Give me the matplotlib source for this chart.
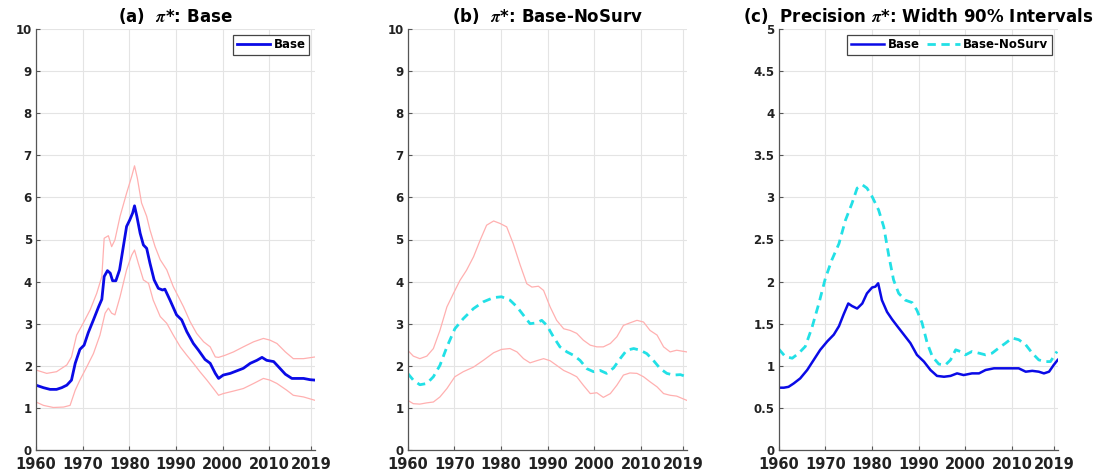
import matplotlib
matplotlib.use("Agg")
import matplotlib.pyplot as plt
from matplotlib.ticker import FormatStrFormatter

plt.rcParams['font.family'] = ['DejaVu Sans']
plt.rcParams['font.weight'] = 'bold'
plt.rcParams['mathtext.fontset'] = 'stix'

# pi* (Base): median and 90% band
base_yr = [1960, 1961.6, 1963, 1964.4, 1965.5, 1966.6, 1967.6, 1968.4, 1969.4, 1970.3, 1971.2, 1972.3,
           1973.4, 1974.1, 1974.6, 1975.3, 1975.9, 1976.4, 1977.1, 1977.9, 1978.7, 1979.4, 1980.1,
           1980.7, 1981.1, 1981.6, 1982.3, 1983, 1983.7, 1984.4, 1985.3, 1986.2, 1987.1, 1987.6,
           1988.7, 1990.1, 1991.2, 1992.3, 1993.7, 1994.8, 1996.2, 1997.3, 1998.4, 1999.1, 2000.1,
           2001.6, 2003, 2004.4, 2005.9, 2007.3, 2008.4, 2009.4, 2010.9, 2011.9, 2013.4, 2014.8,
           2015.9, 2017.3, 2018.7, 2019.75]
base_med = [1.54, 1.48, 1.44, 1.44, 1.48, 1.54, 1.66, 2.06, 2.39, 2.49, 2.79, 3.09,
            3.40, 3.58, 4.12, 4.26, 4.20, 4.02, 4.02, 4.28, 4.83, 5.31, 5.47,
            5.63, 5.80, 5.55, 5.15, 4.87, 4.79, 4.44, 4.04, 3.84, 3.80, 3.82,
            3.56, 3.21, 3.09, 2.81, 2.53, 2.37, 2.15, 2.06, 1.82, 1.70, 1.78,
            1.82, 1.88, 1.94, 2.06, 2.13, 2.20, 2.13, 2.10, 1.98, 1.80, 1.70,
            1.70, 1.70, 1.67, 1.66]

base_up_yr = [1960, 1962.3, 1964.4, 1966.6, 1967.6, 1968.7, 1970.1, 1971.6, 1973, 1974.1, 1974.6,
              1975.5, 1976.2, 1976.9, 1978, 1979.4, 1980.5, 1981.1, 1981.7, 1982.6, 1983.7, 1984.4,
              1985.5, 1986.6, 1988, 1989.4, 1990.5, 1991.6, 1993, 1994.4, 1995.9, 1997.3, 1998.4,
              1999.1, 2000.5, 2002.3, 2004.4, 2006.6, 2008.7, 2010.1, 2011.6, 2013.4, 2015.1,
              2017.3, 2019.75]
base_up = [1.90, 1.82, 1.86, 2.02, 2.21, 2.73, 3.01, 3.33, 3.72, 4.12, 5.03,
           5.09, 4.83, 4.99, 5.55, 6.10, 6.50, 6.75, 6.46, 5.87, 5.55, 5.23,
           4.83, 4.52, 4.28, 3.88, 3.64, 3.40, 3.05, 2.77, 2.57, 2.45, 2.21,
           2.20, 2.25, 2.33, 2.45, 2.57, 2.65, 2.61, 2.53, 2.33, 2.17,
           2.17, 2.21]

base_lo_yr = [1960, 1961.6, 1963.7, 1965.9, 1967.3, 1968.4, 1969.4, 1970.9, 1972.3, 1973.7, 1974.8,
              1975.5, 1976.2, 1976.9, 1978, 1979.4, 1980.5, 1981.1, 1981.9, 1983, 1984.1, 1985.1,
              1986.6, 1988, 1989.4, 1990.9, 1992.3, 1993.7, 1995.1, 1996.6, 1998, 1999.1, 2000.1,
              2002.3, 2004.4, 2006.6, 2008.7, 2010.1, 2011.6, 2013.7, 2015.1, 2017.3, 2019.75]
base_lo = [1.14, 1.06, 1.01, 1.02, 1.06, 1.42, 1.66, 1.98, 2.29, 2.73, 3.25,
           3.37, 3.25, 3.21, 3.64, 4.28, 4.63, 4.75, 4.44, 4.04, 3.96, 3.56,
           3.17, 3.01, 2.73, 2.45, 2.25, 2.06, 1.86, 1.66, 1.46, 1.30, 1.34,
           1.40, 1.46, 1.58, 1.70, 1.66, 1.58, 1.42, 1.30, 1.26, 1.18]

# pi* (Base-NoSurv): median and 90% band
nos_yr = [1960, 1961.2, 1962.6, 1964.1, 1965.5, 1966.9, 1968.4, 1970.1, 1971.9, 1974.1, 1976.2,
          1978.4, 1980.1, 1981.9, 1983.4, 1984.8, 1986.2, 1987.6, 1988.7, 1989.8, 1991.2, 1992.6,
          1994.1, 1995.5, 1996.9, 1998.4, 1999.8, 2001.2, 2002.6, 2004.1, 2005.5, 2006.9, 2008.4,
          2009.8, 2011.2, 2012.6, 2014.1, 2015.5, 2016.9, 2018.4, 2019.75]
nos_med = [1.82, 1.66, 1.55, 1.58, 1.74, 2.01, 2.45, 2.88, 3.12, 3.36, 3.52,
           3.62, 3.64, 3.56, 3.40, 3.20, 3.00, 3.02, 3.08, 2.96, 2.69, 2.45,
           2.33, 2.25, 2.13, 1.93, 1.86, 1.89, 1.82, 1.95, 2.17, 2.37, 2.41,
           2.37, 2.29, 2.13, 1.93, 1.82, 1.78, 1.79, 1.74]

nos_up_yr = [1960, 1961.2, 1962.6, 1964.1, 1965.5, 1966.9, 1968.4, 1969.8, 1971.2, 1972.6, 1974.1,
             1975.5, 1976.9, 1978.4, 1979.8, 1981.2, 1982.6, 1984.1, 1985.5, 1986.6, 1988, 1989.1,
             1990.5, 1991.9, 1993.4, 1994.8, 1996.2, 1997.6, 1999.1, 2000.5, 2001.9, 2003.4,
             2004.8, 2006.2, 2007.6, 2009.1, 2010.5, 2011.9, 2013.4, 2014.8, 2016.2, 2017.6, 2019.75]
nos_up = [2.37, 2.23, 2.17, 2.23, 2.41, 2.84, 3.40, 3.72, 4.03, 4.27, 4.59,
          4.98, 5.34, 5.44, 5.38, 5.30, 4.90, 4.39, 3.95, 3.87, 3.89, 3.79,
          3.40, 3.08, 2.88, 2.84, 2.77, 2.61, 2.49, 2.45, 2.45, 2.53,
          2.69, 2.96, 3.02, 3.08, 3.04, 2.84, 2.73, 2.45, 2.33, 2.37, 2.33]

nos_lo_yr = [1960, 1961.2, 1962.6, 1964.1, 1965.5, 1966.9, 1968.4, 1970.1, 1971.9, 1974.1, 1976.2,
             1978.4, 1980.1, 1981.9, 1983.4, 1984.8, 1986.2, 1987.6, 1989.1, 1990.5, 1991.9, 1993.4,
             1994.8, 1996.2, 1997.6, 1999.1, 2000.5, 2001.9, 2003.4, 2004.8, 2006.2, 2007.6, 2009.1,
             2010.5, 2011.9, 2013.4, 2014.8, 2016.2, 2017.6, 2019.75]
nos_lo = [1.18, 1.10, 1.09, 1.12, 1.14, 1.26, 1.46, 1.74, 1.86, 1.97, 2.13,
          2.31, 2.39, 2.41, 2.33, 2.17, 2.07, 2.12, 2.17, 2.12, 2.01, 1.89,
          1.82, 1.74, 1.54, 1.34, 1.36, 1.25, 1.34, 1.54, 1.78, 1.83, 1.82,
          1.74, 1.62, 1.50, 1.34, 1.30, 1.28, 1.18]

# width of the 90% intervals
wb_yr = [1960, 1961.1, 1962.1, 1963.2, 1964.6, 1966.1, 1967.5, 1968.9, 1970.4, 1971.8, 1972.9,
         1973.9, 1974.9, 1975.7, 1976.8, 1977.9, 1978.9, 1980, 1980.7, 1981.3, 1982.1, 1983.2,
         1984.3, 1985.4, 1986.8, 1988.2, 1989.6, 1991.1, 1992.5, 1993.9, 1995.4, 1996.8, 1998.2,
         1999.6, 2001.4, 2002.9, 2004.3, 2006.1, 2007.9, 2009.6, 2011.4, 2012.9, 2014.3, 2015.7,
         2016.8, 2017.9, 2018.9, 2019.75]
wb = [0.74, 0.74, 0.75, 0.79, 0.85, 0.95, 1.07, 1.19, 1.29, 1.37, 1.47,
      1.61, 1.74, 1.71, 1.68, 1.74, 1.86, 1.93, 1.94, 1.98, 1.78, 1.64,
      1.55, 1.47, 1.37, 1.27, 1.13, 1.05, 0.95, 0.88, 0.87, 0.88, 0.91,
      0.89, 0.91, 0.91, 0.95, 0.97, 0.97, 0.97, 0.97, 0.93, 0.94, 0.93,
      0.91, 0.93, 1.01, 1.07]

wn_yr = [1960, 1961.4, 1962.9, 1964.3, 1965.7, 1967.1, 1968.6, 1970, 1971.4, 1972.9, 1974.3,
         1975.7, 1976.8, 1977.9, 1978.9, 1980, 1981.4, 1982.5, 1983.6, 1984.6, 1985.7, 1987.1,
         1988.6, 1989.6, 1990.7, 1991.8, 1992.9, 1994.3, 1995.7, 1996.8, 1997.9, 1998.9, 2000,
         2001.4, 2002.9, 2004.3, 2005.7, 2007.1, 2008.6, 2010, 2011.4, 2012.9, 2014.3, 2015.7,
         2017.1, 2018.2, 2019.6]
wn = [1.20, 1.11, 1.09, 1.15, 1.23, 1.45, 1.74, 2.04, 2.26, 2.45, 2.73,
      2.93, 3.11, 3.15, 3.11, 3.01, 2.85, 2.65, 2.30, 2.02, 1.86, 1.78,
      1.75, 1.66, 1.51, 1.27, 1.11, 1.02, 1.01, 1.07, 1.19, 1.17, 1.13,
      1.17, 1.15, 1.13, 1.15, 1.21, 1.27, 1.33, 1.31, 1.25, 1.15, 1.07,
      1.05, 1.05, 1.17]

year_ticks = [1960, 1970, 1980, 1990, 2000, 2010, 2019]

BLUE = '#0a0ae6'
CYAN = '#22e0e6'
BAND = '#ffb0b0'
DASH = (0, (3, 2))

fig = plt.figure(figsize=(11.06, 4.76), dpi=100)
lefts = [36 / 1106, 407.7 / 1106, 778.7 / 1106]
bottom, height, width = 26 / 476, 421 / 476, 279 / 1106
axs = [fig.add_axes([l, bottom, width, height]) for l in lefts]


def style(ax, ymax, ystep):
    ax.set_xlim(1960, 2019.75)
    ax.set_ylim(0, ymax)
    ax.set_xticks(year_ticks)
    yt = [i * ystep for i in range(int(round(ymax / ystep)) + 1)]
    ax.set_yticks(yt)
    ax.yaxis.set_major_formatter(FormatStrFormatter('%g'))
    ax.grid(True, color='#e4e4e4', linewidth=0.8)
    ax.set_axisbelow(True)
    for s in ['top', 'right']:
        ax.spines[s].set_visible(False)
    for s in ['left', 'bottom']:
        ax.spines[s].set_color('#555555')
        ax.spines[s].set_linewidth(0.9)
    ax.tick_params(direction='in', length=3, color='#555555', width=0.8)
    ax.tick_params(axis='x', labelsize=10.5, pad=5, labelcolor='#222222')
    ax.tick_params(axis='y', labelsize=8.5, pad=3, labelcolor='#222222')
    for lab in ax.get_xticklabels() + ax.get_yticklabels():
        lab.set_fontweight('bold')


def framed(leg):
    leg.get_frame().set_edgecolor('#444444')
    leg.get_frame().set_linewidth(0.9)


# (a) Base
ax = axs[0]
style(ax, 10, 1)
ax.plot(base_up_yr, base_up, color=BAND, lw=0.9)
ax.plot(base_lo_yr, base_lo, color=BAND, lw=0.9)
ax.plot(base_yr, base_med, color=BLUE, lw=2.0, label='Base')
ax.set_title(r'(a)  $\pi$*: Base', fontsize=12, fontweight='bold', pad=5)
framed(ax.legend(loc='upper right', fontsize=8.5, handlelength=2.8, handletextpad=0.3,
                 borderpad=0.3, fancybox=False, framealpha=1, borderaxespad=0.5))

# (b) Base-NoSurv
ax = axs[1]
style(ax, 10, 1)
ax.plot(nos_up_yr, nos_up, color=BAND, lw=0.9)
ax.plot(nos_lo_yr, nos_lo, color=BAND, lw=0.9)
ax.plot(nos_yr, nos_med, color=CYAN, lw=2.0, linestyle=DASH)
ax.set_title(r'(b)  $\pi$*: Base-NoSurv', fontsize=12, fontweight='bold', pad=5)

# (c) width of 90% intervals
ax = axs[2]
style(ax, 5, 0.5)
ax.plot(wb_yr, wb, color=BLUE, lw=1.8, label='Base')
ax.plot(wn_yr, wn, color=CYAN, lw=2.0, linestyle=DASH, label='Base-NoSurv')
ax.set_title(r'(c)  Precision $\pi$*: Width 90% Intervals', fontsize=12,
             fontweight='bold', pad=5)
framed(ax.legend(loc='upper right', ncol=2, fontsize=8.5, handlelength=2.8, handletextpad=0.3,
                 columnspacing=0.6, borderpad=0.3, fancybox=False, framealpha=1,
                 borderaxespad=0.5))

fig.savefig('out.png', dpi=100)
